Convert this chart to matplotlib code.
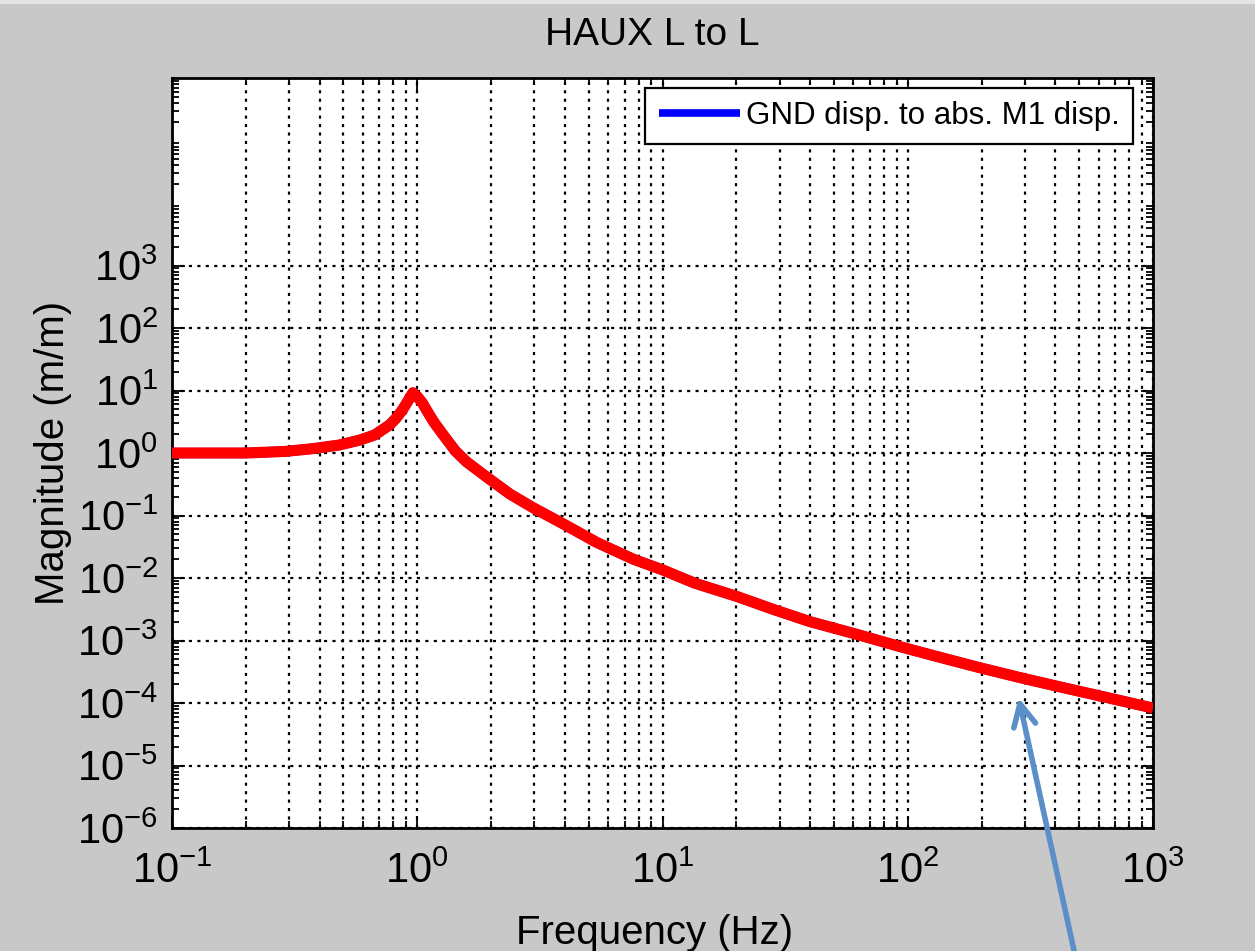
import math
import matplotlib
matplotlib.use("Agg")
import matplotlib.pyplot as plt
from matplotlib.ticker import LogLocator, FixedLocator, NullFormatter
from matplotlib.patches import FancyArrowPatch, Rectangle

# ---- data ----
freq_hz = [0.1, 0.2, 0.29, 0.38, 0.48, 0.58, 0.67, 0.77, 0.82, 0.87, 0.91,
           0.96, 1.0, 1.05, 1.1, 1.17, 1.27, 1.43, 1.59, 1.94, 2.39, 2.95,
           4.0, 5.4, 7.6, 10, 13.5, 20, 28.6, 40, 62.7, 96, 140, 195, 293,
           420, 581, 1000]
magnitude = [1.0, 1.0, 1.06, 1.18, 1.34, 1.6, 1.94, 2.8, 3.6, 4.9, 6.5,
             9.2, 8.0, 6.3, 4.6, 3.1, 2.0, 1.08, 0.72, 0.40, 0.22, 0.135,
             0.071, 0.037, 0.020, 0.0135, 0.0083, 0.0051, 0.0031, 0.0020,
             0.00124, 7.7e-4, 5.2e-4, 3.7e-4, 2.5e-4, 1.8e-4, 1.35e-4, 8.3e-5]
yticks_major = [1e-6, 1e-5, 1e-4, 1e-3, 1e-2, 1e-1, 1e0, 1e1, 1e2, 1e3]
xticks_major = [1e-1, 1e0, 1e1, 1e2, 1e3]
title_text = "HAUX L to L"
legend_label = "GND disp. to abs. M1 disp."
xlabel_text = "Frequency (Hz)"
ylabel_text = "Magnitude (m/m)"

plt.rcParams['font.family'] = ['Liberation Sans', 'DejaVu Sans']
plt.rcParams['mathtext.fontset'] = 'custom'
plt.rcParams['mathtext.rm'] = 'Liberation Sans'
plt.rcParams['mathtext.it'] = 'Liberation Sans'
plt.rcParams['mathtext.bf'] = 'Liberation Sans'

W, H = 1255, 951
fig = plt.figure(figsize=(W / 100, H / 100), dpi=100)
fig.patch.set_facecolor('#c8c8c8')
# thin light strip along the top edge of the screenshot
fig.patches.append(Rectangle((0, 1 - 4 / H), 1, 4 / H, transform=fig.transFigure,
                             facecolor='#e4e4e4', edgecolor='none', zorder=0))

ax = fig.add_axes([172 / W, 1 - 828 / H, (1153 - 172) / W, (828 - 78) / H])
ax.set_facecolor('white')

ax.plot(freq_hz, magnitude, color='#0000ff', lw=7.5, solid_capstyle='butt',
        solid_joinstyle='round', label=legend_label, zorder=3)
ax.plot(freq_hz, magnitude, color='#ff0000', lw=8, solid_capstyle='butt',
        solid_joinstyle='round', zorder=4)

ax.set_xscale('log')
ax.set_yscale('log')
ax.set_xlim(1e-1, 1e3)
ax.set_ylim(1e-6, 1e6)

ax.xaxis.set_major_locator(FixedLocator(xticks_major))
ax.xaxis.set_minor_locator(LogLocator(base=10, subs=range(2, 10), numticks=50))
ax.xaxis.set_minor_formatter(NullFormatter())
ax.yaxis.set_major_locator(FixedLocator(yticks_major))
ax.yaxis.set_minor_locator(LogLocator(base=10, subs=range(2, 10), numticks=50))
ax.yaxis.set_minor_formatter(NullFormatter())

ax.set_xticklabels([r'$10^{%d}$' % round(math.log10(v)) for v in xticks_major])
ax.set_yticklabels([r'$10^{%d}$' % round(math.log10(v)) for v in yticks_major])

dots = (0, (1.4, 2.4))
ax.grid(True, which='major', axis='both', color='black', lw=1.6, linestyle=dots)
ax.grid(True, which='minor', axis='x', color='black', lw=1.6, linestyle=dots)

ax.tick_params(which='both', direction='in', top=True, right=True,
               width=1.3, colors='black', labelsize=30)
ax.tick_params(which='major', length=9)
ax.tick_params(which='minor', length=5)
ax.tick_params(axis='x', which='major', pad=17)
ax.tick_params(axis='y', which='major', pad=10)
for s in ax.spines.values():
    s.set_linewidth(2)
    s.set_color('black')

ax.set_xlabel(xlabel_text, fontsize=29)
ax.xaxis.set_label_coords((655 - 172) / 981, (828 - 914) / 750)
ax.set_ylabel(ylabel_text, fontsize=29, labelpad=4)
fig.text(652 / W, 1 - 35 / H, title_text, fontsize=28, ha='center', va='center')

leg = ax.legend(loc='upper right', bbox_to_anchor=(1133 / W, 1 - 88 / H),
                bbox_transform=fig.transFigure, fontsize=22.5, frameon=True,
                fancybox=False, edgecolor='black', handlelength=2.6,
                handletextpad=0.2, borderpad=0.42, borderaxespad=0)
leg.get_frame().set_linewidth(1.6)
leg.get_frame().set_facecolor('white')
leg.get_frame().set_alpha(1)
for line in leg.get_lines():
    line.set_linewidth(5.5)

# annotation arrow in figure pixel coordinates
arrow = FancyArrowPatch((1075 / W, 1 - 955 / H), (1018 / W, 1 - 695 / H),
                        transform=fig.transFigure,
                        arrowstyle='->,head_length=16,head_width=8',
                        mutation_scale=1, color='#5b8fc7', lw=4, zorder=10)
fig.patches.append(arrow)

fig.savefig('out.png', dpi=100, facecolor=fig.get_facecolor())
